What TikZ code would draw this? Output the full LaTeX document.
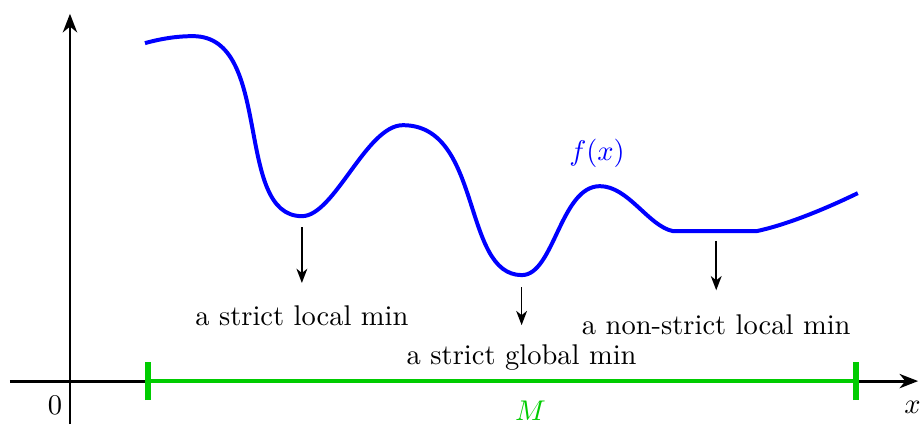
\documentclass[tikz,border=0pt]{standalone}
\usepackage{amsmath}
\usepackage{tikz}
\usepackage{xcolor}
\usetikzlibrary{arrows.meta,positioning,calc}
\definecolor{fnBlue}{HTML}{0000FF}
\definecolor{setGreen}{HTML}{00CC00}

\begin{document}
\begin{tikzpicture}[
    axis/.style={line width=1pt, -{Stealth[length=6.5pt,width=5pt,inset=2pt]}},
    curve/.style={line width=1.4pt, draw=fnBlue, line join=round},
    setline/.style={line width=1.4pt, draw=setGreen},
    settick/.style={line width=2pt, draw=setGreen},
    pointer/.style={line width=0.6pt, -{Stealth[length=5pt,width=3.8pt,inset=1.5pt]}},
    lbl/.style={font=\normalsize, align=center}
]
\useasboundingbox (-0.863,-0.53) rectangle (10.52,4.70);

% ===== AXES =====
\coordinate (O) at (0,0);
\coordinate (xs) at (-0.74,0);
\coordinate (xe) at (10.46,0);
\coordinate (ys) at (0,-0.53);
\coordinate (ye) at (0,4.53);
\draw[axis] (xs) -- (xe);
\draw[axis] (ys) -- (ye);
\node[lbl] (zero) at (-0.185,-0.30) {$0$};
\node[lbl] (xlab) at (10.39,-0.33) {$x$};

% ===== SET M =====
\coordinate (Ma) at (0.962,0);
\coordinate (Mb) at (9.69,0);
\draw[setline] (Ma) -- (Mb);
\draw[settick] ($(Ma)+(0,-0.234)$) -- ($(Ma)+(0,0.234)$);
\draw[settick] ($(Mb)+(0,-0.234)$) -- ($(Mb)+(0,0.234)$);
\node[lbl, text=setGreen] (Mlab) at (5.68,-0.37) {$M$};

% ===== FUNCTION =====
\draw[curve] (0.925,4.168)
    .. controls (1.125,4.223) and (1.317,4.254) .. (1.517,4.254)
    .. controls (2.517,4.254) and (2.011,2.034) .. (2.861,2.034)
    .. controls (3.261,2.034) and (3.656,3.156) .. (4.106,3.156)
    .. controls (5.091,3.156) and (4.828,1.307) .. (5.573,1.307)
    .. controls (5.968,1.307) and (6.050,2.404) .. (6.535,2.404)
    .. controls (6.885,2.404) and (7.135,1.910) .. (7.435,1.850)
    -- (8.471,1.850)
    .. controls (8.862,1.933) and (9.356,2.143) .. (9.716,2.318);
\node[lbl, text=fnBlue] (flab) at (6.50,2.81) {$f(x)$};

% ===== MINIMA =====
\coordinate (m1) at (2.86,1.90); \coordinate (t1) at (2.86,1.21);
\coordinate (m2) at (5.57,1.16); \coordinate (t2) at (5.57,0.69);
\coordinate (m3) at (7.97,1.73); \coordinate (t3) at (7.97,1.12);
\draw[pointer] (m1) -- (t1);
\draw[pointer] (m2) -- (t2);
\draw[pointer] (m3) -- (t3);
\node[lbl] (l1) at (2.86,0.80) {a strict local min};
\node[lbl] (l2) at (5.57,0.29) {a strict global min};
\node[lbl] (l3) at (7.97,0.69) {a non-strict local min};

\end{tikzpicture}
\end{document}
